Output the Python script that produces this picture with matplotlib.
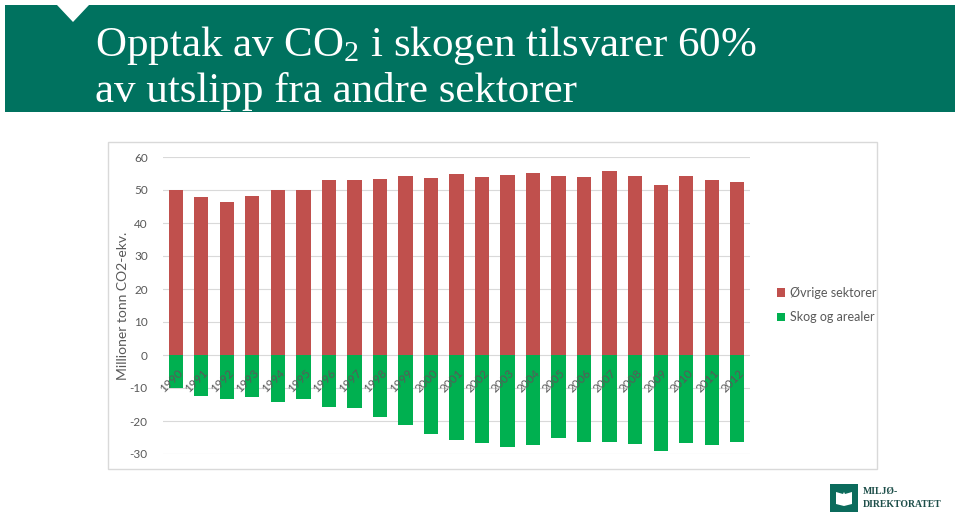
import numpy as np
import matplotlib.pyplot as plt
from matplotlib.patches import Rectangle, Polygon

plt.rcParams["font.family"] = ["Lato", "DejaVu Sans"]
plt.rcParams["axes.unicode_minus"] = False
plt.rcParams["mathtext.fontset"] = "custom"
plt.rcParams["mathtext.rm"] = "Liberation Serif"

years = [str(y) for y in range(1990, 2013)]
ovrige = [50.1, 48.0, 46.3, 48.2, 50.1, 49.9, 53.0, 53.0, 53.2, 54.2, 53.7, 54.9,
          53.8, 54.6, 55.2, 54.3, 54.0, 55.8, 54.2, 51.6, 54.1, 53.1, 52.5]
skog = [-10.1, -12.4, -13.4, -12.7, -14.2, -13.4, -15.9, -16.2, -18.9, -21.2, -23.8, -25.8,
        -26.7, -27.8, -27.3, -25.0, -26.3, -26.3, -26.9, -29.0, -26.7, -27.4, -26.5]
yticks = [-30, -20, -10, 0, 10, 20, 30, 40, 50, 60]

RED = "#C0504D"
GREEN = "#00B050"
TEAL = "#00725F"
GREY = "#595959"
W, H = 960, 516

fig = plt.figure(figsize=(W / 100, H / 100), dpi=100)
fig.patch.set_facecolor("white")

# title banner
fig.patches.append(Rectangle((5 / W, 1 - 112 / H), 950 / W, 107 / H,
                             transform=fig.transFigure, facecolor=TEAL, edgecolor="none"))
fig.patches.append(Polygon([(57 / W, 1 - 5 / H), (89 / W, 1 - 5 / H), (73 / W, 1 - 22 / H)],
                           closed=True, transform=fig.transFigure, facecolor="white",
                           edgecolor="none"))
fig.text(95 / W, 1 - 56 / H, r"Opptak av $\mathrm{CO_2}$ i skogen tilsvarer 60%",
         family="Liberation Serif", fontsize=31, color="white", va="baseline")
fig.text(95 / W, 1 - 102 / H, "av utslipp fra andre sektorer",
         family="Liberation Serif", fontsize=31, color="white", va="baseline")

# chart frame
fig.patches.append(Rectangle((108 / W, 1 - 469 / H), 769 / W, 327 / H,
                             transform=fig.transFigure, facecolor="white",
                             edgecolor="#D9D9D9", linewidth=1))

ax = fig.add_axes([163 / W, 1 - 454 / H, 587 / W, 297 / H])
ax.set_zorder(2)
ax.patch.set_visible(False)
x = np.arange(len(years))
b1 = ax.bar(x, ovrige, width=0.56, color=RED, label="Øvrige sektorer", zorder=3)
b2 = ax.bar(x, skog, width=0.56, color=GREEN, label="Skog og arealer", zorder=3)

ax.set_xlim(-0.5, len(years) - 0.5)
ax.set_ylim(-30, 60)
ax.set_yticks(yticks)
ax.set_yticklabels([str(t) for t in yticks])
ax.yaxis.grid(True, color="#D9D9D9", linewidth=0.8, zorder=0)
ax.set_axisbelow(True)
for s in ax.spines.values():
    s.set_visible(False)
ax.tick_params(axis="y", length=0, pad=11, labelsize=8.5, labelcolor=GREY)
ax.set_xticks([])

# year labels sit just under the zero line, over the green bars
for xi, yr in zip(x, years):
    ax.text(xi + 0.05, -3.6, yr, rotation=45, ha="right", va="top", rotation_mode="anchor",
            fontsize=8.5, color=GREY, zorder=5)

ax.set_ylabel("Millioner tonn CO2-ekv.", fontsize=10, color=GREY)
ax.yaxis.set_label_coords(-34 / 587, 0.5)

fig.legend(handles=[b1, b2], loc="center left", bbox_to_anchor=(766 / W, 1 - 305 / H),
           frameon=False, fontsize=9, labelcolor=GREY, handlelength=0.65,
           handleheight=0.65, handletextpad=0.4, labelspacing=1.0)

# logo
fig.patches.append(Rectangle((830 / W, 1 - 512 / H), 28 / W, 28 / H,
                             transform=fig.transFigure, facecolor="#0B6B5C", edgecolor="none"))
fig.patches.append(Polygon([(836 / W, 1 - 492 / H), (843 / W, 1 - 494 / H), (844 / W, 1 - 492 / H),
                            (845 / W, 1 - 494 / H), (852 / W, 1 - 492 / H), (852 / W, 1 - 504 / H),
                            (844 / W, 1 - 506 / H), (836 / W, 1 - 504 / H)],
                           closed=True, transform=fig.transFigure, facecolor="white",
                           edgecolor="none"))
fig.text(863 / W, 1 - 494 / H, "MILJØ-", family="Liberation Serif", fontsize=7,
         color="#1E4F4A", weight="bold", va="baseline")
fig.text(863 / W, 1 - 507 / H, "DIREKTORATET", family="Liberation Serif", fontsize=7,
         color="#1E4F4A", weight="bold", va="baseline")

fig.savefig("out.png", dpi=100)
